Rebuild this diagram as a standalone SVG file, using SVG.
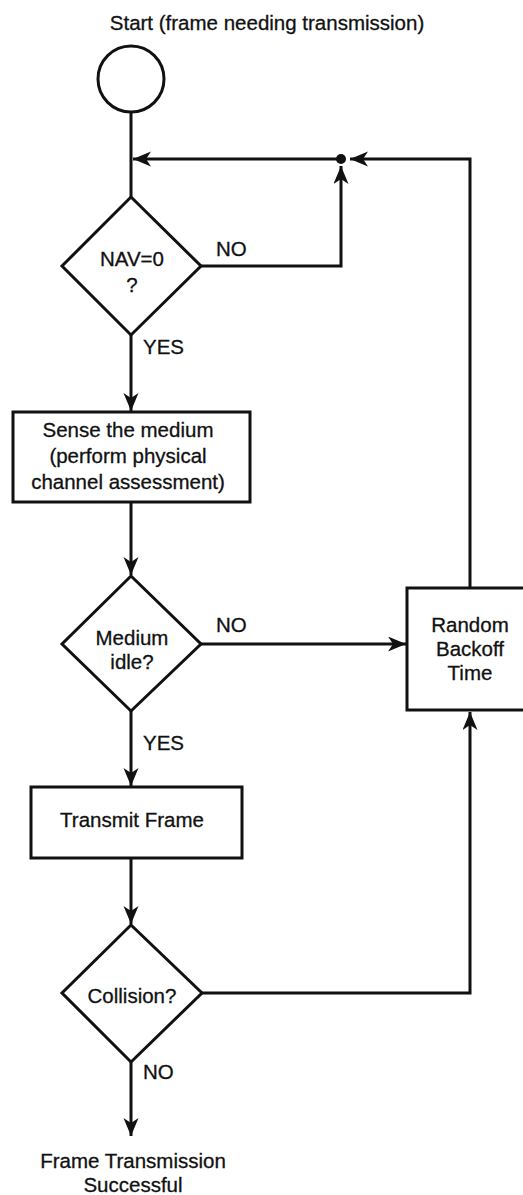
<svg xmlns="http://www.w3.org/2000/svg" width="523" height="1195" viewBox="0 0 523 1195">
  <style>
    .shape { fill: #fff; stroke: #111; stroke-width: 3; }
    .wire { fill: none; stroke: #111; stroke-width: 3; }
    text { font-family: "Liberation Sans", Arial, sans-serif; font-size: 20.5px; fill: #111; stroke: #111; stroke-width: 0.3; }
    .c { text-anchor: middle; }
  </style>
  <defs>
    <marker id="arrow" markerUnits="userSpaceOnUse" markerWidth="20" markerHeight="16" refX="18" refY="7.5" orient="auto">
      <path d="M0,0 L18,7.5 L0,15 L5,7.5 z" fill="#111"/>
    </marker>
  </defs>
  <rect width="523" height="1195" fill="#fff"/>

  <!-- connectors -->
  <g id="connectors">
    <line class="wire" x1="131" y1="112" x2="131" y2="197"/>
    <line class="wire" x1="341" y1="159" x2="133" y2="159" marker-end="url(#arrow)"/>
    <polyline class="wire" points="470,588 470,159 350,159" marker-end="url(#arrow)"/>
    <polyline class="wire" points="201,266 341,266 341,166" marker-end="url(#arrow)"/>
    <circle cx="341" cy="159" r="5" fill="#111"/>
    <line class="wire" x1="131" y1="335" x2="131" y2="411" marker-end="url(#arrow)"/>
    <line class="wire" x1="131" y1="502" x2="131" y2="575" marker-end="url(#arrow)"/>
    <line class="wire" x1="201" y1="644" x2="406" y2="644" marker-end="url(#arrow)"/>
    <line class="wire" x1="131" y1="711" x2="131" y2="786" marker-end="url(#arrow)"/>
    <line class="wire" x1="131" y1="858" x2="131" y2="924" marker-end="url(#arrow)"/>
    <polyline class="wire" points="201,993 470,993 470,712" marker-end="url(#arrow)"/>
    <line class="wire" x1="131" y1="1062" x2="131" y2="1136" marker-end="url(#arrow)"/>
    <text x="216" y="256">NO</text>
    <text x="143" y="354">YES</text>
    <text x="216" y="632">NO</text>
    <text x="143" y="750">YES</text>
    <text x="143" y="1079">NO</text>
  </g>

  <g id="start">
    <text class="c" x="267" y="30">Start (frame needing transmission)</text>
    <circle class="shape" cx="131" cy="79" r="33"/>
  </g>

  <g id="nav-check">
    <polygon class="shape" points="131,197 201,266 131,335 62,266"/>
    <text class="c" x="132" y="266">NAV=0</text>
    <text class="c" x="132" y="292">?</text>
  </g>

  <g id="sense-medium">
    <rect class="shape" x="13" y="412" width="237" height="90"/>
    <text class="c" x="128" y="437">Sense the medium</text>
    <text class="c" x="128" y="463">(perform physical</text>
    <text class="c" x="128" y="489">channel assessment)</text>
  </g>

  <g id="medium-idle">
    <polygon class="shape" points="131,576 201,644 131,711 62,644"/>
    <text class="c" x="132" y="645">Medium</text>
    <text class="c" x="132" y="669">idle?</text>
  </g>

  <g id="random-backoff">
    <rect class="shape" x="407" y="588" width="126" height="122"/>
    <text class="c" x="470" y="632">Random</text>
    <text class="c" x="470" y="656">Backoff</text>
    <text class="c" x="470" y="680">Time</text>
  </g>

  <g id="transmit-frame">
    <rect class="shape" x="31" y="787" width="211" height="71"/>
    <text class="c" x="132" y="827">Transmit Frame</text>
  </g>

  <g id="collision">
    <polygon class="shape" points="131,925 202,993 131,1062 62,993"/>
    <text class="c" x="132" y="1003">Collision?</text>
  </g>

  <g id="end">
    <text class="c" x="133" y="1168">Frame Transmission</text>
    <text class="c" x="133" y="1192">Successful</text>
  </g>
</svg>
